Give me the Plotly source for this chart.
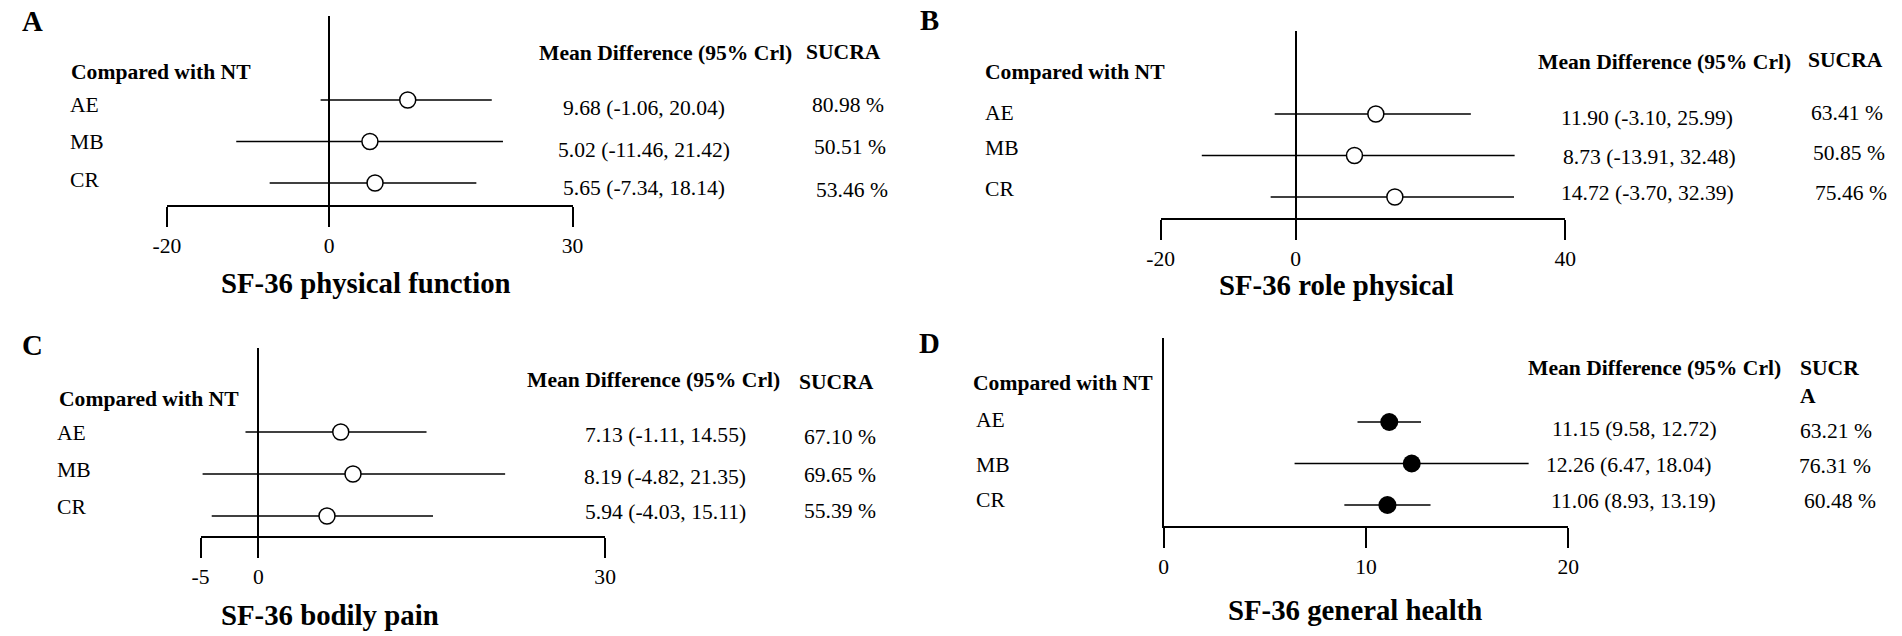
import plotly.graph_objects as go

# dados
tratamentos = ["AE", "MB", "CR"]

pf_md = [9.68, 5.02, 5.65]
pf_lo = [-1.06, -11.46, -7.34]
pf_hi = [20.04, 21.42, 18.14]
pf_sucra = [80.98, 50.51, 53.46]
pf_ticks = [-20, 0, 30]

rp_md = [11.90, 8.73, 14.72]
rp_lo = [-3.10, -13.91, -3.70]
rp_hi = [25.99, 32.48, 32.39]
rp_sucra = [63.41, 50.85, 75.46]
rp_ticks = [-20, 0, 40]

bp_md = [7.13, 8.19, 5.94]
bp_lo = [-1.11, -4.82, -4.03]
bp_hi = [14.55, 21.35, 15.11]
bp_sucra = [67.10, 69.65, 55.39]
bp_ticks = [-5, 0, 30]

gh_md = [11.15, 12.26, 11.06]
gh_lo = [9.58, 6.47, 8.93]
gh_hi = [12.72, 18.04, 13.19]
gh_sucra = [63.21, 76.31, 60.48]
gh_ticks = [0, 10, 20]

titulos = ["SF-36 physical function", "SF-36 role physical",
           "SF-36 bodily pain", "SF-36 general health"]
letras = ["A", "B", "C", "D"]

W, H = 1902, 636
FONT = "Liberation Serif"
FS = 21.6
FS_T = 28.8


def fx(p):
    return p / W


def fy(p):
    return 1 - p / H


# posicoes em pixels de cada painel (layout)
paineis = [
    dict(md=pf_md, lo=pf_lo, hi=pf_hi, sucra=pf_sucra, ticks=pf_ticks, cheio=False,
         x0=155, x1=566, top=16, base=205, rows=[100, 142, 183],
         letra=(7, 21), comp=(57, 72), lab_x=56, lab_y=[105, 142, 180],
         mdh=(660, 53), md_x=[638, 638, 638], md_y=[108, 150, 188],
         sh=(841, 52), s_x=[845, 847, 849], s_y=[105, 147, 190], tit=(357, 283)),
    dict(md=rp_md, lo=rp_lo, hi=rp_hi, sucra=rp_sucra, ticks=rp_ticks, cheio=False,
         x0=1162, x1=1572, top=31, base=218, rows=[114, 156, 197],
         letra=(917, 20), comp=(983, 72), lab_x=983, lab_y=[113, 148, 189],
         mdh=(1672, 62), md_x=[1655, 1657, 1655], md_y=[118, 157, 193],
         sh=(1856, 60), s_x=[1857, 1859, 1861], s_y=[113, 153, 193], tit=(1340, 285)),
    dict(md=bp_md, lo=bp_lo, hi=bp_hi, sucra=bp_sucra, ticks=bp_ticks, cheio=False,
         x0=189, x1=599, top=348, base=536, rows=[432, 474, 516],
         letra=(7, 345), comp=(45, 399), lab_x=43, lab_y=[433, 470, 507],
         mdh=(648, 380), md_x=[660, 660, 660], md_y=[435, 477, 512],
         sh=(833, 382), s_x=[837, 837, 837], s_y=[437, 475, 511], tit=(320, 615)),
    dict(md=gh_md, lo=gh_lo, hi=gh_hi, sucra=gh_sucra, ticks=gh_ticks, cheio=True,
         x0=1165, x1=1575, top=338, base=526, rows=[422, 463, 505],
         letra=(916, 343), comp=(971, 383), lab_x=974, lab_y=[420, 465, 500],
         mdh=(1662, 368), md_x=[1642, 1637, 1641], md_y=[429, 465, 501],
         sh=(1809, 381.5), s_x=[1846, 1845, 1850], s_y=[431, 466, 501], tit=(1359, 610)),
]

fig = go.Figure()


def nota(texto, x, y, size=FS, bold=False, anchor="center"):
    fig.add_annotation(
        text=f"<b>{texto}</b>" if bold else texto,
        xref="paper", yref="paper", x=fx(x), y=fy(y),
        xanchor=anchor, yanchor="middle", showarrow=False, align="left",
        borderpad=0,
        font=dict(family=FONT, size=size, color="black"),
    )


for i, p in enumerate(paineis, start=1):
    xa = "x" if i == 1 else f"x{i}"
    ya = "y" if i == 1 else f"y{i}"
    linhas = [1, 2, 3]

    if p["cheio"]:
        marcador = dict(symbol="circle", size=18, color="black")
    else:
        marcador = dict(symbol="circle", size=16, color="white",
                        line=dict(color="black", width=1.5))

    fig.add_trace(go.Scatter(
        x=p["md"], y=linhas, xaxis=xa, yaxis=ya, mode="markers",
        marker=marcador,
        error_x=dict(
            type="data", symmetric=False,
            array=[h - m for h, m in zip(p["hi"], p["md"])],
            arrayminus=[m - l for m, l in zip(p["md"], p["lo"])],
            width=0, thickness=1.5, color="black",
        ),
        cliponaxis=False, showlegend=False, hoverinfo="skip",
    ))

    r1, r3 = p["rows"][0], p["rows"][2]
    passo = (r3 - r1) / 2
    fig.update_layout({
        ("xaxis" if i == 1 else f"xaxis{i}"): dict(
            domain=[fx(p["x0"]), fx(p["x1"])],
            range=[p["ticks"][0], p["ticks"][-1]],
            anchor=ya, tickvals=p["ticks"], ticktext=[str(t) for t in p["ticks"]],
            ticks="outside", ticklen=20,
            tickwidth=1.5, tickcolor="black", showline=True, linecolor="black",
            linewidth=1.5, showgrid=False,
            zeroline=not p["cheio"], zerolinecolor="black", zerolinewidth=1.5,
            tickfont=dict(family=FONT, size=FS, color="black"), fixedrange=True,
        ),
        ("yaxis" if i == 1 else f"yaxis{i}"): dict(
            domain=[fy(p["base"]), fy(p["top"])],
            range=[3 + (p["base"] - r3) / passo, 1 - (r1 - p["top"]) / passo],
            anchor=xa, showticklabels=False, ticks="", showgrid=False,
            zeroline=False, showline=p["cheio"], linecolor="black", linewidth=1.5,
            fixedrange=True,
        ),
    })

    # textos do painel
    nota(letras[i - 1], *p["letra"], size=FS_T, bold=True, anchor="left")
    nota("Compared with NT", *p["comp"], bold=True, anchor="left")
    for t, yy in zip(tratamentos, p["lab_y"]):
        nota(t, p["lab_x"], yy, anchor="left")
    nota("Mean Difference (95% Crl)", *p["mdh"], bold=True)
    for m, l, h, xx, yy in zip(p["md"], p["lo"], p["hi"], p["md_x"], p["md_y"]):
        nota(f"{m:.2f} ({l:.2f}, {h:.2f})", xx, yy)
    if p["cheio"]:
        nota("SUCR<br>A", *p["sh"], bold=True, anchor="left")
    else:
        nota("SUCRA", *p["sh"], bold=True)
    for s, xx, yy in zip(p["sucra"], p["s_x"], p["s_y"]):
        nota(f"{s:.2f} %", xx, yy)
    nota(titulos[i - 1], *p["tit"], size=FS_T, bold=True)

fig.update_layout(
    width=W, height=H, margin=dict(l=0, r=0, t=0, b=0),
    paper_bgcolor="white", plot_bgcolor="white",
)

# tira a margem padrao do body para a figura ocupar a janela toda
fig.write_html(
    "out.html",
    config={"displayModeBar": False},
    post_script="document.body.style.margin = '0';",
)
